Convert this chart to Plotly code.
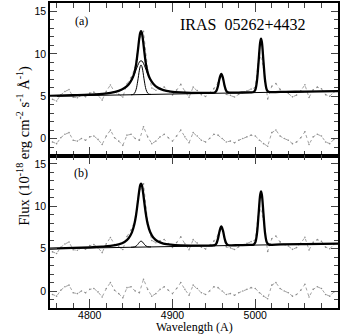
import plotly.graph_objects as go
from plotly.subplots import make_subplots

# model grid (Angstrom) and fitted curves
model_wave = [4752, 4780, 4800, 4815, 4825, 4835, 4842, 4847, 4851, 4854, 4856, 4858,
              4860, 4861, 4862, 4863, 4864, 4866, 4868, 4870, 4873, 4877, 4882, 4889,
              4898, 4910, 4925, 4940, 4948, 4951, 4953, 4955, 4957, 4959, 4961, 4963,
              4965, 4967, 4970, 4980, 4993, 4998, 5000, 5002, 5004, 5006, 5007, 5008,
              5010, 5012, 5014, 5016, 5030, 5060, 5100]

total_a = [5.03, 5.11, 5.18, 5.28, 5.40, 5.63, 5.96, 6.39, 6.99, 7.77, 8.72, 10.23,
           11.91, 12.48, 12.69, 12.48, 11.92, 10.25, 8.74, 7.79, 7.03, 6.45, 6.02, 5.72,
           5.54, 5.44, 5.40, 5.39, 5.39, 5.43, 5.62, 6.21, 7.14, 7.64, 7.14, 6.22,
           5.64, 5.45, 5.42, 5.43, 5.45, 5.49, 5.73, 6.74, 9.02, 11.38, 11.78, 11.39,
           9.02, 6.76, 5.75, 5.52, 5.50, 5.55, 5.61]

total_b = [5.02, 5.09, 5.16, 5.24, 5.33, 5.52, 5.80, 6.24, 6.93, 7.91, 8.97, 10.43,
           11.97, 12.50, 12.69, 12.50, 11.98, 10.45, 8.99, 7.93, 6.97, 6.29, 5.87, 5.61,
           5.47, 5.39, 5.37, 5.37, 5.38, 5.42, 5.61, 6.19, 7.12, 7.63, 7.13, 6.20,
           5.62, 5.44, 5.40, 5.42, 5.44, 5.48, 5.72, 6.73, 9.01, 11.38, 11.77, 11.38,
           9.02, 6.75, 5.75, 5.51, 5.50, 5.54, 5.61]

broad_wave = [4752, 4780, 4800, 4815, 4825, 4835, 4842, 4847, 4851, 4854, 4856, 4858,
              4860, 4861, 4862, 4863, 4864, 4866, 4868, 4870, 4873, 4877, 4882, 4889,
              4898, 4910, 4925]
broad_a = [5.03, 5.11, 5.18, 5.28, 5.40, 5.63, 5.96, 6.39, 6.98, 7.62, 8.12, 8.63,
           9.03, 9.15, 9.19, 9.15, 9.04, 8.65, 8.14, 7.64, 7.02, 6.45, 6.02, 5.72,
           5.54, 5.44, 5.40]

narrow_wave = [4850, 4852, 4854, 4856, 4858, 4860, 4861, 4862, 4863, 4864, 4866, 4868,
               4870, 4872, 4874]
narrow_a = [5.17, 5.20, 5.33, 5.78, 6.78, 8.07, 8.52, 8.69, 8.52, 8.07, 6.80, 5.80,
            5.36, 5.23, 5.21]
narrow_b = [5.17, 5.18, 5.21, 5.30, 5.50, 5.76, 5.85, 5.89, 5.86, 5.77, 5.52, 5.32,
            5.23, 5.21, 5.21]

cont_wave = [4752, 5100]
cont_flux = [5.0, 5.6]

# observed spectrum and residuals, 5 A steps
obs_wave = [4755, 4760, 4765, 4770, 4775, 4780, 4785, 4790, 4795, 4800, 4805, 4810,
            4815, 4820, 4825, 4830, 4835, 4840, 4845, 4850, 4855, 4860, 4865, 4870,
            4875, 4880, 4885, 4890, 4895, 4900, 4905, 4910, 4915, 4920, 4925, 4930,
            4935, 4940, 4945, 4950, 4955, 4960, 4965, 4970, 4975, 4980, 4985, 4990,
            4995, 5000, 5005, 5010, 5015, 5020, 5025, 5030, 5035, 5040, 5045, 5050,
            5055, 5060, 5065, 5070, 5075, 5080, 5085, 5090, 5095]
obs_flux = [4.63, 4.44, 5.15, 5.56, 5.78, 4.89, 4.81, 5.12, 4.94, 5.36, 5.48, 5.11,
            4.54, 5.58, 6.33, 5.50, 5.22, 4.90, 6.43, 7.21, 8.39, 11.77, 12.66, 8.13,
            5.97, 5.71, 5.93, 6.09, 5.60, 5.15, 5.72, 6.39, 5.58, 4.87, 6.07, 5.67,
            5.17, 4.97, 5.38, 5.89, 6.59, 7.49, 5.22, 5.10, 4.91, 5.22, 5.43, 5.63,
            5.84, 6.02, 10.15, 8.42, 4.68, 6.18, 6.49, 5.80, 5.50, 5.31, 4.92, 5.13,
            5.64, 6.34, 4.85, 5.76, 6.07, 5.88, 5.18, 4.99, 5.50]
resid = [-0.4, -0.6, 0.1, 0.5, 0.7, -0.2, -0.3, 0.0, -0.2, 0.2, 0.3, -0.1,
         -0.7, 0.3, 1.0, 0.1, -0.3, -0.8, 0.4, 0.5, 0.0, -0.2, 1.4, 0.2,
         -0.6, -0.3, 0.2, 0.5, 0.1, -0.3, 0.3, 1.0, 0.2, -0.5, 0.7, 0.3,
         -0.2, -0.4, 0.0, 0.5, 0.4, 0.0, -0.4, -0.3, -0.5, -0.2, 0.0, 0.2,
         0.4, 0.3, -0.2, -0.6, -0.9, 0.7, 1.0, 0.3, 0.0, -0.2, -0.6, -0.4,
         0.1, 0.8, -0.7, 0.2, 0.5, 0.3, -0.4, -0.6, -0.1]

fig = make_subplots(rows=2, cols=1, shared_xaxes=True, vertical_spacing=0)

grey = "#8c8c8c"
for row, total, narrow in [(1, total_a, narrow_a), (2, total_b, narrow_b)]:
    for yy in (obs_flux, resid):
        fig.add_trace(go.Scatter(x=obs_wave, y=yy, mode="lines+markers",
                                 line=dict(color=grey, width=0.8, dash="dot"),
                                 marker=dict(color=grey, size=1.6)), row=row, col=1)
    fig.add_trace(go.Scatter(x=cont_wave, y=cont_flux, mode="lines",
                             line=dict(color="black", width=1)), row=row, col=1)
    fig.add_trace(go.Scatter(x=narrow_wave, y=narrow, mode="lines", line_shape="spline",
                             line=dict(color="black", width=1)), row=row, col=1)
    if row == 1:
        fig.add_trace(go.Scatter(x=broad_wave, y=broad_a, mode="lines", line_shape="spline",
                                 line=dict(color="black", width=1)), row=row, col=1)
    fig.add_trace(go.Scatter(x=model_wave, y=total, mode="lines", line_shape="spline",
                             line=dict(color="black", width=2.3)), row=row, col=1)

tickfont = dict(family="Liberation Sans", size=10.5, color="black")
xcommon = dict(range=[4752, 5100], tick0=4800, dtick=100, ticks="inside", ticklen=9,
               tickwidth=1, showline=True, linecolor="black", linewidth=1.5,
               mirror="ticks", showgrid=False, zeroline=False, tickfont=tickfont,
               minor=dict(ticks="inside", ticklen=5, dtick=20, tickwidth=1, showgrid=False))
ycommon = dict(range=[-2, 16], tickvals=[0, 5, 10, 15], ticks="inside", ticklen=7,
               tickwidth=1, showline=True, linecolor="black", linewidth=1.5,
               mirror="ticks", showgrid=False, zeroline=False, tickfont=tickfont,
               minor=dict(ticks="inside", ticklen=4, dtick=1, tickwidth=1, showgrid=False))

fig.update_xaxes(**xcommon)
fig.update_yaxes(**ycommon)
fig.update_xaxes(showticklabels=False, row=1, col=1)
fig.update_xaxes(ticklabelstandoff=-3, row=2, col=1)

serif = "Liberation Serif"
fig.update_layout(
    width=341, height=336,
    margin=dict(l=50, r=1, t=1, b=28),
    paper_bgcolor="white", plot_bgcolor="white",
    showlegend=False,
    font=dict(family=serif, color="black"),
    annotations=[
        dict(text="IRAS  05262+4432", xref="x", yref="y", x=4984, y=13.5,
             showarrow=False, font=dict(family=serif, size=16)),
        dict(text="(a)", xref="x", yref="y", x=4790, y=13.9,
             showarrow=False, font=dict(family=serif, size=12)),
        dict(text="(b)", xref="x2", yref="y2", x=4790, y=13.9,
             showarrow=False, font=dict(family=serif, size=12)),
        dict(text="Wavelength (A)", xref="paper", yref="paper", x=0.5, y=0,
             yanchor="bottom", yshift=-28, showarrow=False,
             font=dict(family=serif, size=12)),
        dict(text="Flux (10<sup>-18</sup> erg cm<sup>-2</sup> s<sup>-1</sup> Å<sup>-1</sup>)",
             xref="paper", yref="paper", x=0, y=0.53, xshift=-38, textangle=-90,
             showarrow=False, font=dict(family=serif, size=14.5)),
    ],
)

fig.write_html("out.html", config={"displayModeBar": False},
               post_script="document.body.style.margin='0';")
